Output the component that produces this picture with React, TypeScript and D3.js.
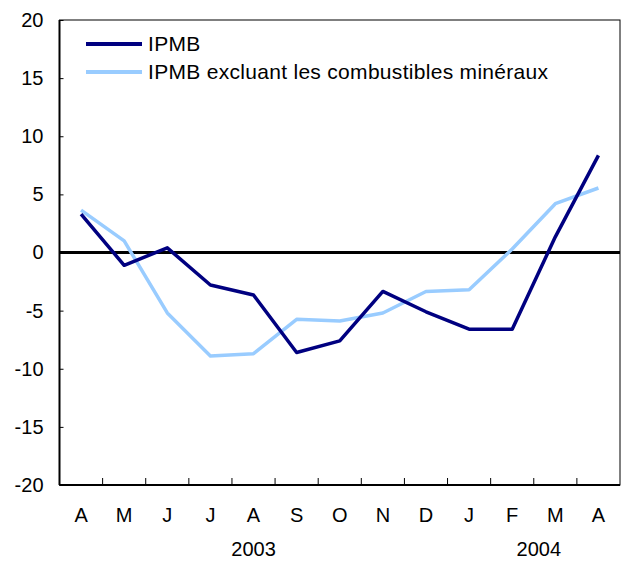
import React, { useEffect, useRef } from "react";
import { scaleBand, scaleLinear, line, select, axisLeft } from "d3";

const width = 622;
const height = 561;
const margin = { top: 20, right: 2, bottom: 76, left: 59.5 };

// data
const months = ["A", "M", "J", "J", "A", "S", "O", "N", "D", "J", "F", "M", "A"];
const ipmb = [3.3, -1.1, 0.4, -2.8, -3.65, -8.6, -7.6, -3.35, -5.1, -6.6, -6.6, 1.35, 8.35];
const ipmbExcl = [3.65, 1.0, -5.2, -8.9, -8.7, -5.75, -5.9, -5.2, -3.35, -3.2, 0.3, 4.2, 5.55];
const yTicks = [-20, -15, -10, -5, 0, 5, 10, 15, 20];
const years = [
  { label: "2003", at: 4 },
  { label: "2004", at: 11 },
];
const seriesNames = ["IPMB", "IPMB excluant les combustibles minéraux"];
const colors = ["#000080", "#99ccff"];

const font = "Arial, 'Liberation Sans', sans-serif";

const YAxis = ({ yScale }) => {
  const ref = useRef(null);
  useEffect(() => {
    const g = select(ref.current);
    g.call(
      axisLeft(yScale)
        .tickValues(yTicks)
        .tickSize(-4)
        .tickPadding(16)
        .tickFormat((d) => String(d))
    );
    g.select(".domain").remove();
    g.selectAll("line").attr("stroke", "#000").attr("stroke-width", 1);
    g.selectAll("text")
      .attr("font-family", font)
      .attr("font-size", 20)
      .attr("fill", "#000");
  }, []);
  return <g ref={ref} transform={`translate(${margin.left},0)`} />;
};

export default function App() {
  const innerRight = width - margin.right;
  const innerBottom = height - margin.bottom;

  const xScale = scaleBand()
    .domain(months.map((_, i) => String(i)))
    .range([margin.left, innerRight])
    .padding(0);
  const yScale = scaleLinear().domain([-20, 20]).range([innerBottom, margin.top]);

  const cx = (i) => xScale(String(i)) + xScale.bandwidth() / 2;
  const lineGen = line()
    .x((d, i) => cx(i))
    .y((d) => yScale(d));

  return (
    <svg
      width={width}
      height={height}
      style={{ position: "absolute", left: 0, top: 0, background: "#fff" }}
    >
      {/* plot frame */}
      <rect
        x={margin.left}
        y={margin.top}
        width={innerRight - margin.left}
        height={innerBottom - margin.top}
        fill="none"
        stroke="#000"
        strokeWidth={1}
      />
      <YAxis yScale={yScale} />

      {/* x ticks between months */}
      {months.slice(1).map((_, i) => {
        const x = xScale(String(i + 1));
        return (
          <line key={i} x1={x} x2={x} y1={innerBottom} y2={innerBottom - 7} stroke="#000" strokeWidth={1} />
        );
      })}

      {/* axes lines */}
      <line x1={margin.left} x2={margin.left} y1={margin.top} y2={innerBottom} stroke="#000" strokeWidth={2} />
      <line x1={margin.left} x2={innerRight} y1={innerBottom} y2={innerBottom} stroke="#000" strokeWidth={2} />

      {/* zero line */}
      <line x1={margin.left} x2={innerRight} y1={yScale(0)} y2={yScale(0)} stroke="#000" strokeWidth={3} />

      {/* series */}
      <path d={lineGen(ipmbExcl)} fill="none" stroke={colors[1]} strokeWidth={3.5} strokeLinejoin="round" />
      <path d={lineGen(ipmb)} fill="none" stroke={colors[0]} strokeWidth={3.5} strokeLinejoin="round" />

      {/* month labels */}
      {months.map((m, i) => (
        <text key={i} x={cx(i)} y={522} textAnchor="middle" fontFamily={font} fontSize={20} fill="#000">
          {m}
        </text>
      ))}

      {/* year labels */}
      {years.map((yr) => (
        <text
          key={yr.label}
          x={yr.label === "2003" ? cx(yr.at) : xScale(String(yr.at)) + 5}
          y={556}
          textAnchor="middle"
          fontFamily={font}
          fontSize={20}
          fill="#000"
        >
          {yr.label}
        </text>
      ))}

      {/* legend */}
      {seriesNames.map((name, i) => (
        <g key={name} transform={`translate(86,${44 + i * 28})`}>
          <line x1={0} x2={56} y1={0} y2={0} stroke={colors[i]} strokeWidth={4} />
          <text x={62} y={7} fontFamily={font} fontSize={21} letterSpacing={0.3} fill="#000">
            {name}
          </text>
        </g>
      ))}
    </svg>
  );
}
